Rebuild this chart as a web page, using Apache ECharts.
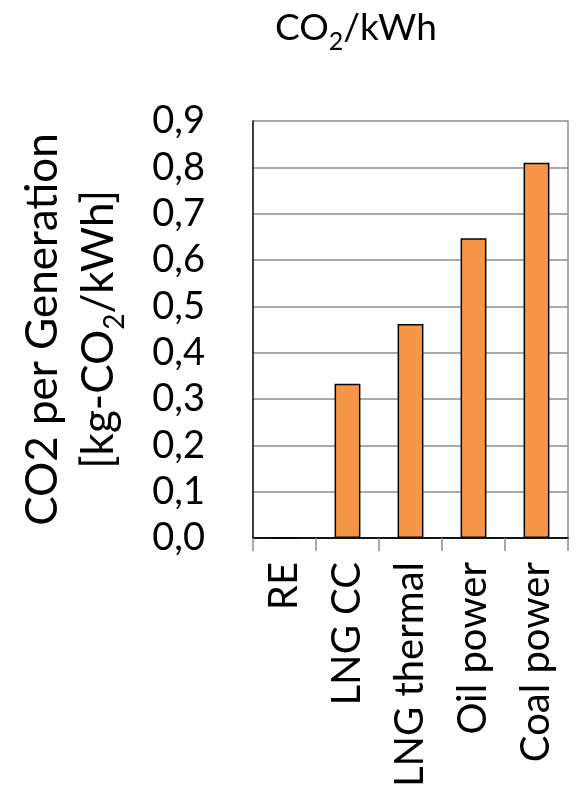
<!DOCTYPE html>
<html>
<head>
<meta charset="utf-8">
<script src="https://cdn.jsdelivr.net/npm/echarts@6/dist/echarts.min.js"></script>
<style>
  html, body { margin: 0; padding: 0; background: #fff; }
  #chart { width: 583px; height: 793px; }
</style>
</head>
<body>
<div id="chart"></div>
<script>
// Emission factor per generated kWh, by generation type
const categories = ['RE', 'LNG CC', 'LNG thermal', 'Oil power', 'Coal power'];
const co2PerKwh = [0, 0.333, 0.462, 0.647, 0.81];
const yMin = 0;
const yMax = 0.9;
const yStep = 0.1;

const FONT = 'Lato';
const chart = echarts.init(document.getElementById('chart'));

chart.setOption({
  backgroundColor: '#fff',
  animation: false,
  title: {
    text: '{a|CO}{s|2}{a|/kWh}',
    left: 270,
    top: 1,
    textStyle: {
      rich: {
        a: { fontFamily: FONT, fontSize: 37, fontWeight: 'normal', color: '#000', lineHeight: 44 },
        s: { fontFamily: FONT, fontSize: 25, fontWeight: 'normal', color: '#000', lineHeight: 25, padding: [27, 0, 0, 0] }
      }
    }
  },
  grid: { left: 253, right: 15, top: 121, bottom: 255, containLabel: false },
  xAxis: [{
    type: 'category',
    data: categories,
    axisLine: { show: true, lineStyle: { color: '#3a3a3a', width: 1.5 } },
    axisTick: { show: true, length: 13, lineStyle: { color: '#8c8c8c', width: 1.5 } },
    axisLabel: {
      rotate: 90,
      margin: 24,
      fontFamily: FONT,
      fontSize: 40,
      color: '#000',
      interval: 0
    },
    splitLine: { show: false }
  }, {
    type: 'category',
    position: 'top',
    data: categories,
    axisLine: { show: true, lineStyle: { color: '#000', width: 1.5 } },
    axisTick: { show: false },
    axisLabel: { show: false }
  }],
  yAxis: [{
    type: 'value',
    min: yMin,
    max: yMax,
    interval: yStep,
    name: '{a|CO2 per Generation}\n{a|[kg-CO}{s|2}{a|/kWh]}',
    nameLocation: 'middle',
    nameGap: 126,
    nameTextStyle: {
      rich: {
        a: { fontFamily: FONT, fontSize: 44, color: '#000', lineHeight: 56 },
        s: { fontFamily: FONT, fontSize: 28, color: '#000', lineHeight: 28, padding: [32, 0, 0, 0] }
      }
    },
    axisLine: { show: true, lineStyle: { color: '#000', width: 1.5 } },
    axisTick: { show: false },
    axisLabel: {
      margin: 48,
      fontFamily: FONT,
      fontSize: 38,
      color: '#000',
      formatter: v => v.toFixed(1).replace('.', ',')
    },
    splitLine: { show: true, lineStyle: { color: '#8c8c8c', width: 1.5 } }
  }, {
    type: 'value',
    position: 'right',
    min: yMin,
    max: yMax,
    interval: yStep,
    axisLine: { show: true, lineStyle: { color: '#8c8c8c', width: 1.5 } },
    axisTick: { show: false },
    axisLabel: { show: false },
    splitLine: { show: false }
  }],
  series: [{
    type: 'bar',
    data: co2PerKwh,
    barWidth: '41%',
    itemStyle: { color: '#F79646', borderColor: '#000', borderWidth: 1.5 }
  }]
});
</script>
</body>
</html>
